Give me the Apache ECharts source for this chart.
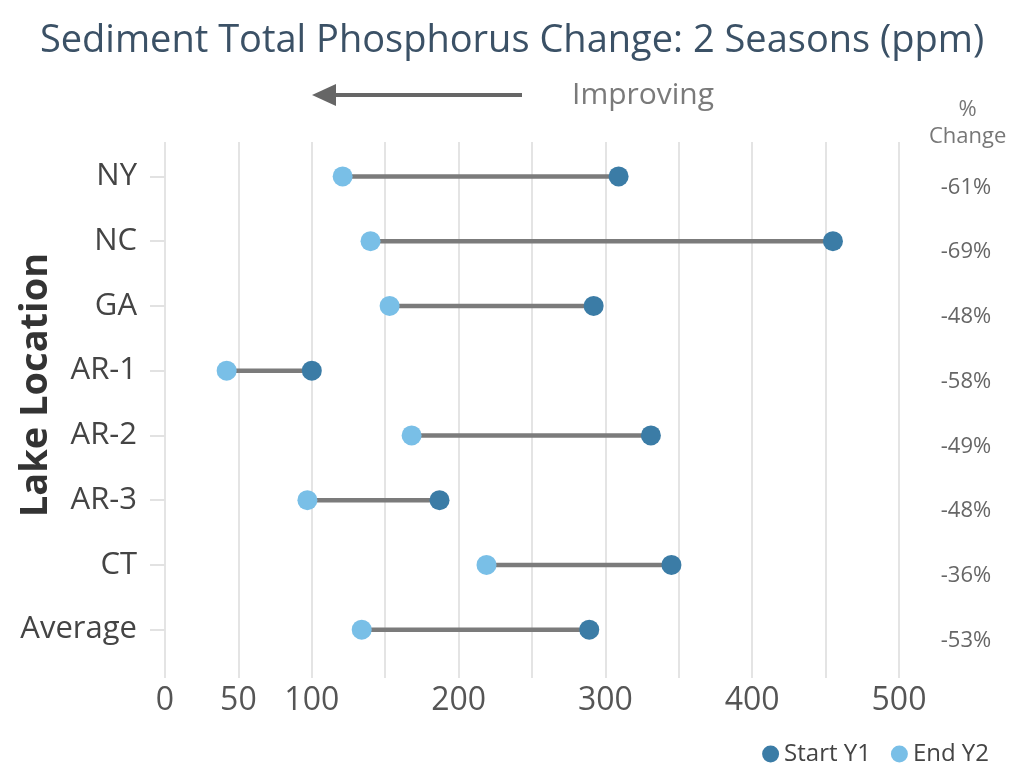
<!DOCTYPE html>
<html>
<head>
    <meta charset="UTF-8">
    <title>Sediment Total Phosphorus Change</title>
    <script src="https://cdn.jsdelivr.net/npm/echarts@6/dist/echarts.min.js"></script>
    <style>
    html, body { margin: 0; padding: 0; background: #fff; }
    #chart { width: 1024px; height: 776px; }
    </style>
</head>
<body>
    <div id="chart"></div>
    <script type="text/javascript">
    // data (ppm)
    var lakes = ['NY', 'NC', 'GA', 'AR-1', 'AR-2', 'AR-3', 'CT', 'Average'];
    var startY1 = [309, 455, 292, 100, 331, 187, 345, 289];
    var endY2 = [121, 140, 153, 42, 168, 97, 219, 134];
    var pctChange = ['-61%', '-69%', '-48%', '-58%', '-49%', '-48%', '-36%', '-53%'];
    var xLabels = [0, 50, 100, 200, 300, 400, 500];

    var font = '"Open Sans", sans-serif';
    var darkBlue = '#3b7ca6';
    var lightBlue = '#79bfe7';

    var chart = echarts.init(document.getElementById('chart'));

    // dumbbell bars between the two seasons
    var spans = lakes.map(function(name, i) {
        return [i, startY1[i], endY2[i]];
    });

    var option = {
        backgroundColor: '#fff',
        textStyle: { fontFamily: font },
        title: {
            text: 'Sediment Total Phosphorus Change: 2 Seasons (ppm)',
            left: 'center',
            top: 17,
            textStyle: {
                fontFamily: font,
                fontSize: 38,
                fontWeight: 'normal',
                color: '#3b5166'
            }
        },
        legend: {
            right: 30,
            bottom: 5,
            icon: 'circle',
            itemWidth: 17,
            itemHeight: 17,
            itemGap: 20,
            data: ['Start Y1', 'End Y2'],
            textStyle: { fontFamily: font, fontSize: 24, color: '#444' }
        },
        // grid 0 holds the marks, grid 1 only carries the longer gridlines and tick labels
        grid: [{
            left: 165,
            right: 125,
            top: 144,
            bottom: 114,
            outerBoundsMode: 'none'
        }, {
            left: 165,
            right: 125,
            top: 142,
            bottom: 98,
            outerBoundsMode: 'none'
        }],
        xAxis: [{
            type: 'value',
            gridIndex: 0,
            min: 0,
            max: 500,
            interval: 50,
            axisLine: { show: false },
            axisTick: { show: false },
            axisLabel: { show: false },
            splitLine: { show: false }
        }, {
            type: 'value',
            gridIndex: 1,
            min: 0,
            max: 500,
            interval: 50,
            axisLine: { show: false },
            axisTick: { show: false },
            splitLine: { lineStyle: { color: '#e4e4e4', width: 2 } },
            axisLabel: {
                margin: 7,
                fontFamily: font,
                fontSize: 32,
                color: '#555',
                formatter: function(v) {
                    return xLabels.indexOf(v) >= 0 ? String(v) : '';
                }
            }
        }],
        yAxis: [{
            type: 'category',
            gridIndex: 0,
            inverse: true,
            data: lakes,
            name: 'Lake Location',
            nameLocation: 'middle',
            nameGap: 110,
            nameMoveOverlap: false,
            nameTextStyle: {
                fontFamily: font,
                fontSize: 38,
                fontWeight: 'bold',
                color: '#333',
                padding: [0, 0, 0, 36]
            },
            axisLine: { show: false },
            axisTick: { show: true, alignWithLabel: true, length: 15, lineStyle: { color: '#e2e2e2', width: 2 } },
            axisLabel: { margin: 28, fontFamily: font, fontSize: 31, color: '#444' }
        }, {
            type: 'category',
            gridIndex: 0,
            inverse: true,
            position: 'right',
            data: lakes,
            axisLine: { show: false },
            axisTick: { show: false },
            axisLabel: {
                margin: 67,
                align: 'center',
                verticalAlign: 'top',
                fontFamily: font,
                fontSize: 22,
                color: '#666',
                formatter: function(v, i) { return pctChange[i]; }
            }
        }, {
            type: 'value',
            gridIndex: 1,
            show: false
        }],
        graphic: [{
            type: 'text',
            left: 929,
            top: 96,
            style: {
                text: '%\nChange',
                textAlign: 'center',
                font: '22px ' + font,
                fill: '#777',
                lineHeight: 27
            }
        }, {
            type: 'text',
            left: 572,
            top: 80,
            style: { text: 'Improving', font: '30px ' + font, fill: '#7a7a7a' }
        }, {
            type: 'line',
            shape: { x1: 332, y1: 95, x2: 522, y2: 95 },
            style: { stroke: '#666', lineWidth: 4 }
        }, {
            type: 'polygon',
            shape: { points: [[312, 95], [336, 84], [336, 106]] },
            style: { fill: '#666' }
        }],
        series: [{
            type: 'custom',
            name: 'span',
            silent: true,
            xAxisIndex: 0,
            yAxisIndex: 0,
            data: spans,
            encode: { y: 0, x: [1, 2] },
            renderItem: function(params, api) {
                var a = api.coord([api.value(1), api.value(0)]);
                var b = api.coord([api.value(2), api.value(0)]);
                return {
                    type: 'line',
                    shape: { x1: a[0], y1: a[1], x2: b[0], y2: b[1] },
                    style: { stroke: '#7b7b7b', lineWidth: 4.5 }
                };
            },
            z: 1
        }, {
            type: 'scatter',
            name: 'Start Y1',
            xAxisIndex: 0,
            yAxisIndex: 0,
            data: startY1.map(function(v, i) { return [v, lakes[i]]; }),
            symbolSize: 20,
            itemStyle: { color: darkBlue, opacity: 1 },
            z: 3
        }, {
            type: 'scatter',
            name: 'End Y2',
            xAxisIndex: 0,
            yAxisIndex: 0,
            data: endY2.map(function(v, i) { return [v, lakes[i]]; }),
            symbolSize: 20,
            itemStyle: { color: lightBlue, opacity: 1 },
            z: 3
        }]
    };

    chart.setOption(option);
    </script>
</body>
</html>
